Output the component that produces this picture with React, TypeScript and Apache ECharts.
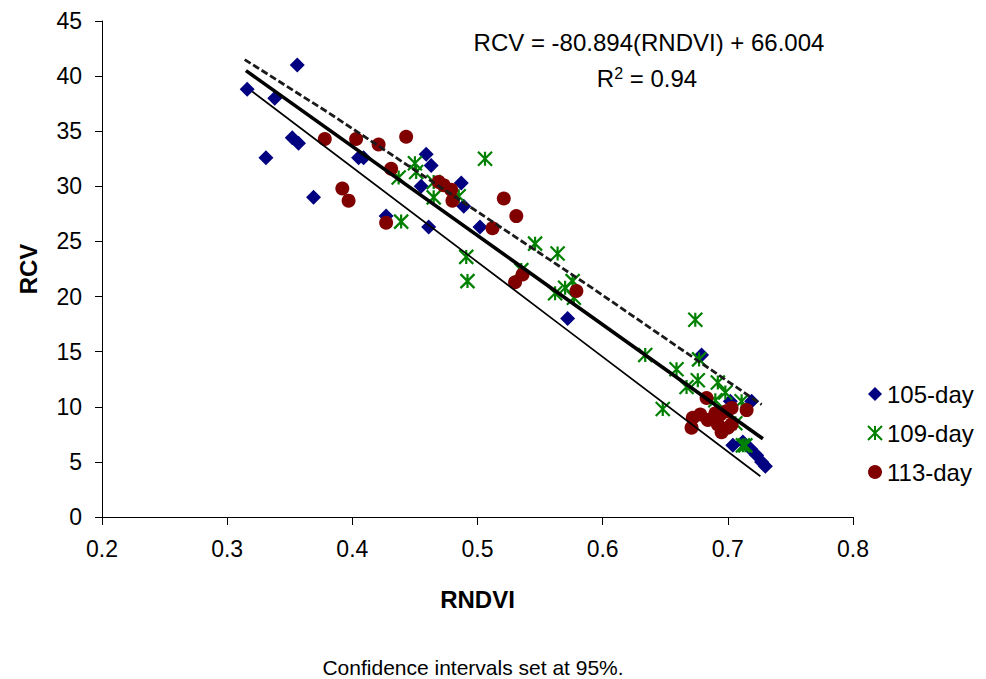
import React, { useEffect, useRef } from "react";
import * as echarts from "echarts";

const FONT = "'Liberation Sans', Arial, sans-serif";

const xTicks = { min: 0.2, max: 0.8, interval: 0.1 };
const yTicks = { min: 0, max: 45, interval: 5 };

const seriesNames = ["105-day", "109-day", "113-day"];

const day105: number[][] = [
  [0.316, 38.8], [0.356, 41.0], [0.338, 38.0], [0.331, 32.6], [0.352, 34.4],
  [0.357, 33.9], [0.369, 29.0], [0.405, 32.6], [0.409, 32.6], [0.427, 27.3],
  [0.459, 32.9], [0.463, 31.9], [0.455, 30.0], [0.487, 30.3], [0.489, 28.2],
  [0.461, 26.3], [0.502, 26.3], [0.572, 18.0], [0.679, 14.7], [0.702, 10.5],
  [0.719, 10.5], [0.704, 6.5], [0.712, 6.8], [0.718, 6.2], [0.723, 5.6],
  [0.727, 5.0], [0.730, 4.6],
];

const day109: number[][] = [
  [0.450, 32.1], [0.451, 31.3], [0.437, 30.8], [0.439, 26.8], [0.465, 30.4],
  [0.465, 29.0], [0.485, 29.1], [0.506, 32.5], [0.491, 23.6], [0.492, 21.4],
  [0.546, 24.8], [0.564, 23.9], [0.535, 22.4], [0.576, 21.4], [0.570, 20.8],
  [0.562, 20.3], [0.577, 19.9], [0.674, 17.9], [0.634, 14.7], [0.659, 13.4],
  [0.677, 14.3], [0.676, 12.4], [0.667, 11.8], [0.692, 12.2], [0.698, 11.3],
  [0.690, 10.6], [0.711, 10.5], [0.648, 9.8], [0.706, 8.5], [0.712, 6.5],
  [0.714, 6.5],
];

const day113: number[][] = [
  [0.378, 34.3], [0.403, 34.3], [0.421, 33.8], [0.443, 34.5], [0.431, 31.6],
  [0.392, 29.8], [0.397, 28.7], [0.427, 26.7], [0.469, 30.4], [0.473, 30.1],
  [0.479, 29.7], [0.480, 28.7], [0.521, 28.9], [0.531, 27.3], [0.512, 26.2],
  [0.536, 22.0], [0.530, 21.3], [0.579, 20.5], [0.683, 10.8], [0.715, 9.7],
  [0.703, 9.9], [0.699, 9.6], [0.678, 9.3], [0.672, 9.0], [0.671, 8.1],
  [0.684, 8.8], [0.694, 9.3], [0.692, 8.4], [0.695, 7.7], [0.700, 8.1],
  [0.703, 8.4], [0.690, 9.4],
];

const regressionLine: number[][] = [[0.315, 40.5], [0.728, 7.1]];
const upperBand: number[][] = [[0.314, 41.5], [0.382, 36.6], [0.590, 20.9], [0.727, 10.2]];
const lowerBand: number[][] = [[0.320, 38.6], [0.562, 17.8], [0.726, 3.7]];

const equationText = "RCV = -80.894(RNDVI) + 66.004";
const r2Text = "R{sup|2} = 0.94";
const footnote = "Confidence intervals set at 95%.";

const ASTERISK = "path://M0,0L10,10M10,0L0,10M5,0L5,10";

export default function App() {
  const ref = useRef<HTMLDivElement>(null);

  useEffect(() => {
    if (!ref.current) return;
    const chart = echarts.init(ref.current, undefined, { renderer: "svg" });
    const lineBase = {
      type: "line" as const,
      showSymbol: false,
      symbol: "none",
      silent: true,
      z: 5,
    };
    chart.setOption({
      animation: false,
      backgroundColor: "#ffffff",
      textStyle: { fontFamily: FONT },
      grid: { left: 102, right: 133, top: 21, bottom: 162, containLabel: false },
      legend: {
        data: seriesNames,
        orient: "vertical",
        left: 862,
        top: 377,
        itemGap: 15,
        itemWidth: 14,
        itemHeight: 14,
        textStyle: { fontSize: 24, color: "#000", fontFamily: FONT },
      },
      xAxis: {
        type: "value",
        min: xTicks.min,
        max: xTicks.max,
        interval: xTicks.interval,
        name: "RNDVI",
        nameLocation: "middle",
        nameGap: 70,
        nameTextStyle: { fontSize: 24, fontWeight: "bold", color: "#000", fontFamily: FONT },
        axisLine: { onZero: false, lineStyle: { color: "#000", width: 1 } },
        axisTick: { show: true, length: 8, lineStyle: { color: "#000" } },
        axisLabel: {
          fontSize: 23,
          color: "#000",
          margin: 20,
          fontFamily: FONT,
          formatter: (v: number) => v.toFixed(1),
        },
        splitLine: { show: false },
      },
      yAxis: {
        type: "value",
        min: yTicks.min,
        max: yTicks.max,
        interval: yTicks.interval,
        name: "RCV",
        nameLocation: "middle",
        nameGap: 62,
        nameRotate: 90,
        nameTextStyle: { fontSize: 24, fontWeight: "bold", color: "#000", fontFamily: FONT },
        axisLine: { show: true, onZero: false, lineStyle: { color: "#000", width: 1 } },
        axisTick: { show: true, length: 7, lineStyle: { color: "#000" } },
        axisLabel: { fontSize: 23, color: "#000", margin: 20, fontFamily: FONT },
        splitLine: { show: false },
      },
      series: [
        {
          name: seriesNames[0],
          type: "scatter",
          symbol: "diamond",
          symbolSize: 15,
          data: day105,
          itemStyle: { color: "#000080", opacity: 1 },
          z: 2,
        },
        {
          name: seriesNames[1],
          type: "scatter",
          symbol: ASTERISK,
          symbolSize: 14,
          data: day109,
          itemStyle: { color: "#008000", borderColor: "#008000", borderWidth: 2.2, opacity: 1 },
          z: 3,
        },
        {
          name: seriesNames[2],
          type: "scatter",
          symbol: "circle",
          symbolSize: 14,
          data: day113,
          itemStyle: { color: "#800000", opacity: 1 },
          z: 4,
        },
        {
          ...lineBase,
          name: "upper",
          data: upperBand,
          lineStyle: { color: "#1a1a1a", width: 2.8, type: [7, 3] },
        },
        {
          ...lineBase,
          name: "lower",
          data: lowerBand,
          lineStyle: { color: "#000", width: 1.7 },
        },
        {
          ...lineBase,
          name: "fit",
          data: regressionLine,
          lineStyle: { color: "#000", width: 3.6 },
        },
      ],
      graphic: [
        {
          type: "text",
          x: 649,
          y: 42,
          style: {
            text: equationText,
            fontSize: 24,
            fontFamily: FONT,
            fill: "#000",
            textAlign: "center",
            textVerticalAlign: "middle",
          },
        },
        {
          type: "text",
          x: 647,
          y: 78,
          style: {
            text: r2Text,
            fontSize: 24,
            fontFamily: FONT,
            fill: "#000",
            textAlign: "center",
            textVerticalAlign: "middle",
            rich: {
              sup: { fontSize: 16, fontFamily: FONT, fill: "#000", verticalAlign: "top", padding: [0, 0, 10, 0] },
            },
          },
        },
        {
          type: "text",
          x: 473,
          y: 667,
          style: {
            text: footnote,
            fontSize: 21,
            fontFamily: FONT,
            fill: "#000",
            textAlign: "center",
            textVerticalAlign: "middle",
          },
        },
      ],
    });
    return () => chart.dispose();
  }, []);

  return (
    <div
      ref={ref}
      style={{ position: "fixed", left: 0, top: 0, width: 986, height: 679, background: "#fff" }}
    />
  );
}
